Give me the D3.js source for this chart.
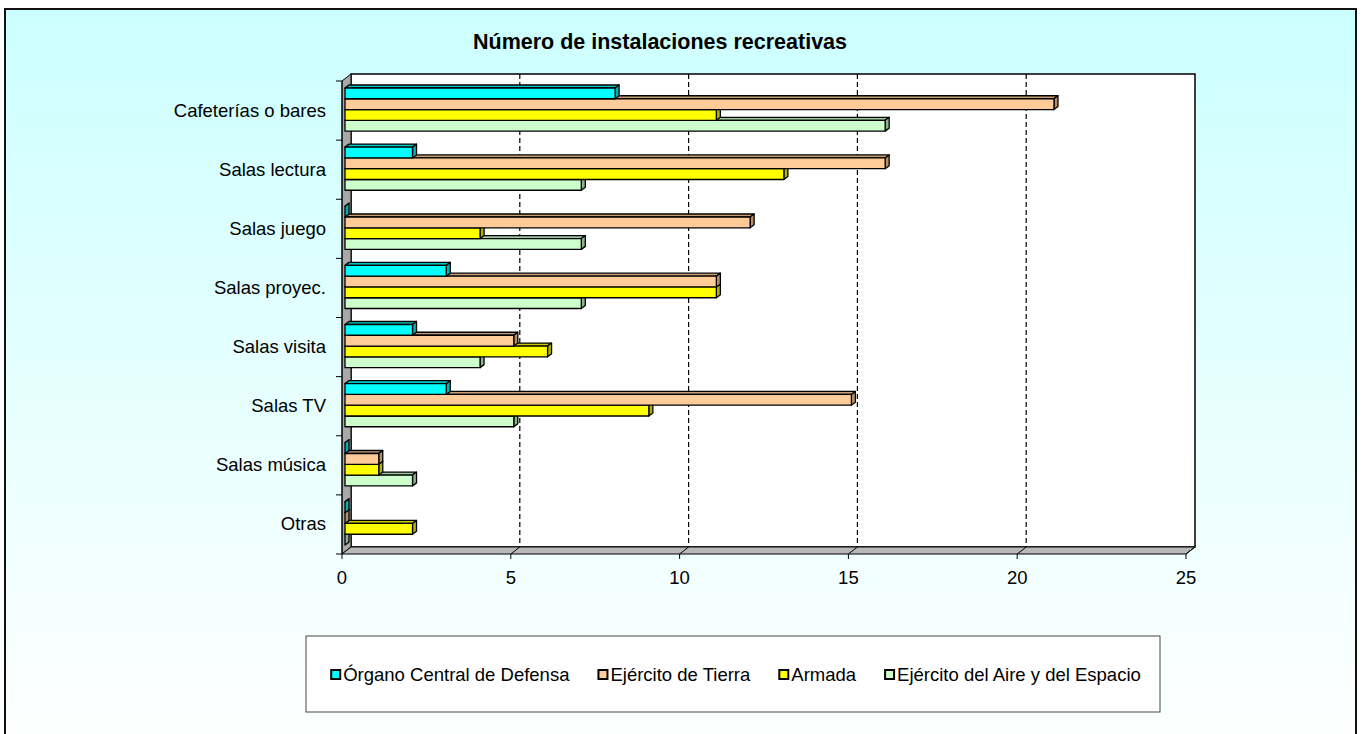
<!DOCTYPE html>
<html>
<head>
<meta charset="utf-8">
<script src="https://cdn.jsdelivr.net/npm/d3@7"></script>
<style>
  body{margin:0;padding:0;overflow:hidden;background:#fff;}
  text{font-family:Arial,"Liberation Sans",sans-serif;fill:#000;}
</style>
</head>
<body>
<div id="chartContainer"></div>
<script>
const categories=["Cafeterías o bares","Salas lectura","Salas juego","Salas proyec.","Salas visita","Salas TV","Salas música","Otras"];
const seriesNames=["Órgano Central de Defensa","Ejército de Tierra","Armada","Ejército del Aire y del Espacio"];
const organoValues=[8,2,0,3,2,3,0,0];
const tierraValues=[21,16,12,11,5,15,1,0];
const armadaValues=[11,13,4,11,6,9,1,2];
const aireValues=[16,7,7,7,4,5,2,0];
const seriesColors=["#00FFFF","#FFCC99","#FFFF00","#CCFFCC"];
const xTicks=[0,5,10,15,20,25];

const W=1363,H=734;
const allValues=[organoValues,tierraValues,armadaValues,aireValues];

const svg=d3.select("#chartContainer").append("svg")
    .attr("width",W).attr("height",H);

// background gradient
const grad=svg.append("defs").append("linearGradient")
    .attr("id","bg").attr("x1",0).attr("y1",0).attr("x2",0).attr("y2",1);
grad.append("stop").attr("offset","0%").attr("stop-color","#CCFFFF");
grad.append("stop").attr("offset","100%").attr("stop-color","#FFFFFF");

svg.append("rect")
    .attr("x",5).attr("y",9).attr("width",1351).attr("height",740)
    .attr("fill","url(#bg)").attr("stroke","#111").attr("stroke-width",2);

svg.append("text")
    .attr("x",660).attr("y",49)
    .attr("text-anchor","middle")
    .style("font-size","21.5px").style("font-weight","bold")
    .text("Número de instalaciones recreativas");

// scales
const x=d3.scaleLinear().domain([0,25]).range([342,1186]);
const y=d3.scaleBand().domain(categories).range([81,554]);
const groupPad=0.27;
const groupH=y.bandwidth()*(1-groupPad);
const yInner=d3.scaleBand().domain(seriesNames)
    .range([y.bandwidth()*groupPad/2-1,y.bandwidth()*groupPad/2-1+groupH]);

const dX=9,dY=7;           // wall depth
const yFront=y.range()[1], yTop=y.range()[0];
const pts=a=>a.map(p=>p.join(",")).join(" ");

// back wall
svg.append("polygon")
    .attr("points",pts([[x(0)+dX,yTop-dY],[x(25)+dX,yTop-dY],[x(25)+dX,yFront-dY],[x(0)+dX,yFront-dY]]))
    .attr("fill","#fff").attr("stroke","#000").attr("stroke-width",1.5);

// gridlines on back wall
svg.selectAll(".grid")
    .data(xTicks.slice(1,-1))
    .enter().append("line")
    .attr("x1",d=>x(d)+dX).attr("x2",d=>x(d)+dX)
    .attr("y1",yTop-dY).attr("y2",yFront-dY)
    .attr("stroke","#000").attr("stroke-width",1.2).attr("stroke-dasharray","5,3");

// left wall
svg.append("polygon")
    .attr("points",pts([[x(0),yTop],[x(0)+dX,yTop-dY],[x(0)+dX,yFront-dY],[x(0),yFront]]))
    .attr("fill","#A8A8A8").attr("stroke","#000").attr("stroke-width",1);

// floor
svg.append("polygon")
    .attr("points",pts([[x(0),yFront],[x(0)+dX,yFront-dY],[x(25)+dX,yFront-dY],[x(25),yFront]]))
    .attr("fill","#B8B8B8").attr("stroke","#000").attr("stroke-width",1);

svg.selectAll(".floorline")
    .data(xTicks.slice(1))
    .enter().append("line")
    .attr("x1",d=>x(d)).attr("y1",yFront)
    .attr("x2",d=>x(d)+dX).attr("y2",yFront-dY)
    .attr("stroke","#000");

// x ticks + labels
svg.selectAll(".xtick")
    .data(xTicks)
    .enter().append("line")
    .attr("x1",d=>x(d)).attr("x2",d=>x(d))
    .attr("y1",yFront).attr("y2",yFront+5)
    .attr("stroke","#000");
svg.selectAll(".xlabel")
    .data(xTicks)
    .enter().append("text")
    .attr("x",d=>x(d)).attr("y",584)
    .attr("text-anchor","middle")
    .style("font-size","18.5px")
    .text(d=>d);

// y axis ticks + labels
svg.append("line")
    .attr("x1",x(0)).attr("x2",x(0)).attr("y1",yTop).attr("y2",yFront)
    .attr("stroke","#000");
const bounds=categories.map(c=>y(c)).concat([yFront]);
svg.selectAll(".ytick")
    .data(bounds)
    .enter().append("line")
    .attr("x1",x(0)-6).attr("x2",x(0))
    .attr("y1",d=>d).attr("y2",d=>d)
    .attr("stroke","#000");
svg.selectAll(".ylabel")
    .data(categories)
    .enter().append("text")
    .attr("x",326).attr("y",d=>y(d)+y.bandwidth()/2+6)
    .attr("text-anchor","end")
    .style("font-size","18.5px")
    .text(d=>d);

// 3D bars
const fx=3,bdx=4,bdy=3;
const bars=svg.append("g");
categories.forEach(function(cat,ci){
    for(let si=seriesNames.length-1;si>=0;si--){
        const v=allValues[si][ci];
        const c=seriesColors[si];
        const x0=x(0)+fx, x1=x(v)+fx;
        const yt=y(cat)+yInner(seriesNames[si]);
        const h=yInner.bandwidth();
        const g=bars.append("g").attr("stroke","#000").attr("stroke-width",1.3).attr("stroke-linejoin","round");
        g.append("polygon")
            .attr("points",pts([[x0,yt],[x0+bdx,yt-bdy],[x1+bdx,yt-bdy],[x1,yt]]))
            .attr("fill",d3.color(c).darker(0.7));
        g.append("polygon")
            .attr("points",pts([[x1,yt],[x1+bdx,yt-bdy],[x1+bdx,yt+h-bdy],[x1,yt+h]]))
            .attr("fill",d3.color(c).darker(1));
        g.append("rect")
            .attr("x",x0).attr("y",yt)
            .attr("width",Math.max(0,x1-x0)).attr("height",h)
            .attr("fill",c);
    }
});

// legend
const legend=svg.append("g");
legend.append("rect")
    .attr("x",306).attr("y",636).attr("width",854).attr("height",76)
    .attr("fill","#fff").attr("stroke","#444").attr("stroke-width",1);
const items=legend.selectAll(".item")
    .data(seriesNames)
    .enter().append("g");
items.append("rect")
    .attr("width",9).attr("height",9)
    .attr("y",670)
    .attr("fill",(d,i)=>seriesColors[i])
    .attr("stroke","#000").attr("stroke-width",2);
items.append("text")
    .attr("y",681)
    .style("font-size","18.5px")
    .text(d=>d);
const gap=29;
let widths=[];
items.select("text").each(function(){widths.push(this.getComputedTextLength());});
const total=d3.sum(widths)+widths.length*12+gap*(widths.length-1);
let cx=736-total/2;
items.each(function(d,i){
    d3.select(this).select("rect").attr("x",cx);
    d3.select(this).select("text").attr("x",cx+12);
    cx+=12+widths[i]+gap;
});
</script>
</body>
</html>
